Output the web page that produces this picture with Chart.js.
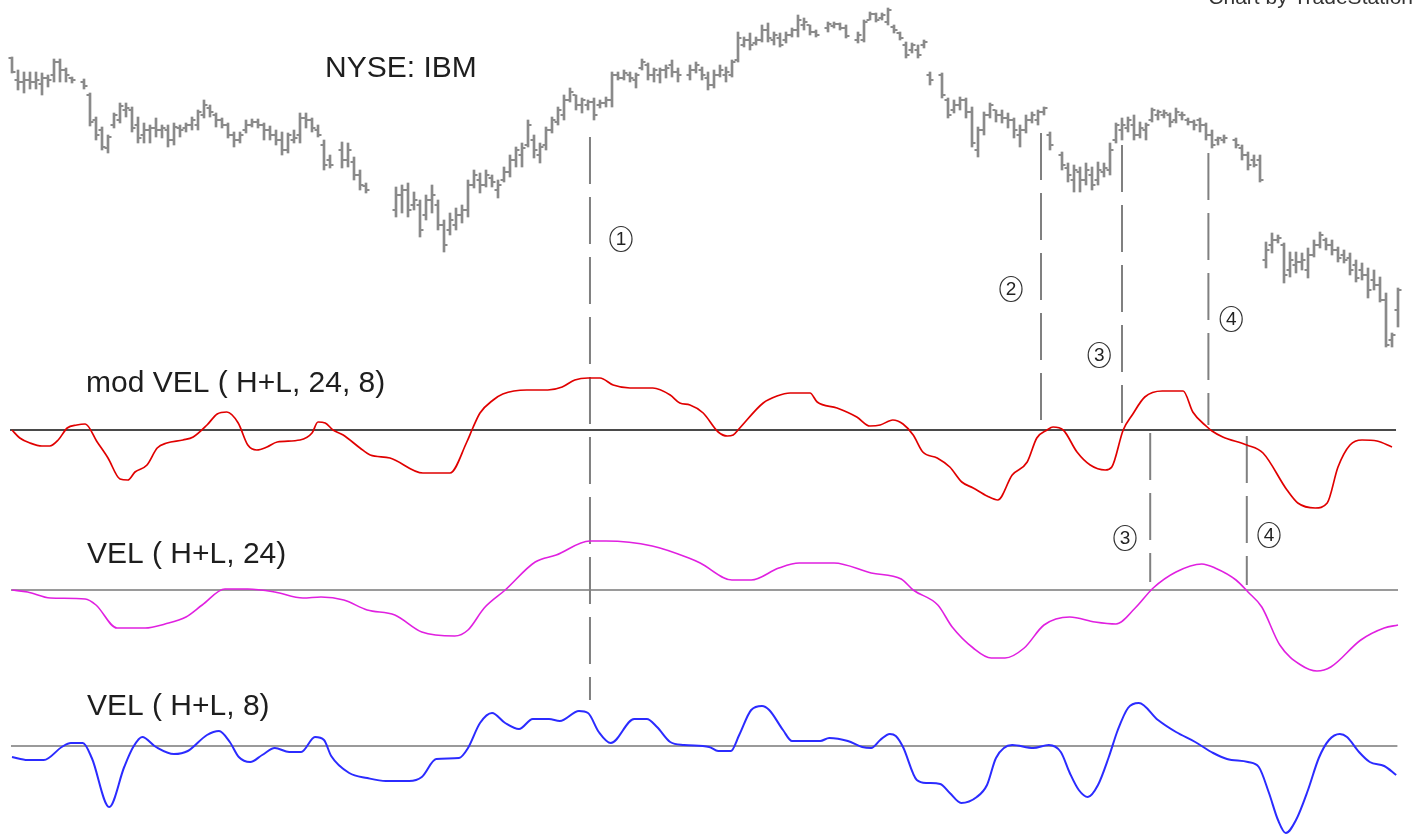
<!DOCTYPE html>
<html>
<head>
<meta charset="utf-8">
<script src="https://cdn.jsdelivr.net/npm/chart.js@4.4.0/dist/chart.umd.min.js"></script>
<style>
  html, body { margin: 0; padding: 0; background: #fff; }
  #wrap { width: 1425px; height: 834px; position: relative; }
  canvas { display: block; }
</style>
</head>
<body>
<div id="wrap"><canvas id="chart"></canvas></div>
<script>
// IBM daily bars, one slot per day (null = no bar drawn)
const highs = [
  171.5,165,164,164,164,163.5,162.5,170.5,170.5,166,
  161.5,null,160.5,153.5,141.5,136.5,132.5,143.5,148.5,148.5,
  146.5,141.5,138.5,137.5,141,137.5,137.5,138.5,137.5,138.5,
  141.5,145,150,147.5,143.5,141,138.5,134,134,140,
  140.5,140.5,138.5,137,135,134,133.5,135,143.5,143.5,
  141,137.5,130,122.5,null,129,128.5,121.5,115,108.5,
  null,null,null,null,106.5,107.5,108.5,104,100,102.5,
  107.5,100,90,93.5,96,97.5,110,115,113.5,115,
  112.5,110,116.5,122.5,126.5,128.5,140,132.5,128.5,136.5,
  141.5,146.5,152.5,156,152.5,151,150,151,150,151.5,
  164,164,165,164,163.5,170.5,168.5,166,166,167.5,
  170,166,null,167.5,169,166.5,164,165,167.5,166.5,
  170,184,181.5,183.5,181.5,187.5,188.5,184,183.5,184,
  186,192.5,191,187.5,185,null,189,189,188.5,187.5,
  null,184,190,194,193.5,193.5,196,187.5,184,179,
  178.5,177.5,180,164,null,163.5,151,150,151.5,151,
  146.5,136.5,144,148.5,145,145,143.5,141,137.5,142.5,
  144,145,146.5,134,null,124,118.5,117.5,116.5,118.5,
  116.5,119,118.5,128.5,138.5,141,141.5,142.5,139,138.5,
  146,145,145,143.5,146,144,141,140,141,138.5,
  135,131.5,132.5,null,131,127.5,124,122.5,122.5,79,
  83.5,82.5,78.5,74,74,73.5,76,80,84,81,
  80,76.5,75,73.5,70,68.5,66,65,61.5,53.5,
  33.5,56
];
const lows = [
  163.5,155,153.5,155.5,155.5,152.5,156.5,159,159,159,
  158.5,null,155.5,137,130,125,123.5,136,138.5,141.5,
  134,128.5,128.5,128.5,131.5,131,126.5,127.5,131.5,134,
  135,135,141,141.5,136.5,136,131,126.5,128.5,133.5,
  136.5,136,130,130,127.5,122.5,123.5,128.5,128.5,136,
  134,131.5,115,116,null,116,116.5,110,105,103.5,
  null,null,null,null,91.5,93.5,91.5,95,81.5,90,
  93.5,85,74,82.5,85,88.5,91.5,106,103.5,106.5,
  106.5,101,109,111.5,116.5,116.5,126.5,121,118.5,125,
  133.5,137.5,140,149,145,143.5,145,140,146,146.5,
  146.5,160,160,159,156,165,160,159,158.5,161,
  161.5,159,null,160,163.5,160,155,156,161.5,159,
  161.5,169,176.5,175,177.5,179,179,177.5,176.5,178.5,
  181.5,181.5,185,182.5,181.5,null,184,186,185,181,
  null,178.5,179,190,189,190,187.5,183.5,180,171,
  173.5,171,176,157.5,null,151,141,143.5,145,141,
  126.5,121.5,132.5,141,139,138.5,136,131,126.5,133.5,
  138.5,137.5,142.5,125,null,115,109,104,104,107.5,
  105,107.5,111.5,112.5,128.5,130,134,130,131,130,
  139,140,141,136.5,138.5,140,137.5,135,134,130,
  126,127.5,128.5,null,126,120,115,116.5,109,66,
  73.5,78.5,58.5,61.5,63.5,65,61,71.5,76,75,
  72.5,69,68.5,62.5,59,60,51,55,49,26.5,
  26.5,36.5
];
const opens = [
  171,160,159,160,159,158,161,162.5,169,165,
  161,null,159,152.5,140,135,126,137.5,140,145,
  145,137.5,132.5,135,136,135,135,130,136,136,
  137.5,137.5,142.5,146,142.5,140,137.5,132.5,130,135,
  137.5,139,137.5,135,132.5,130,125,130,132.5,141,
  140,135,127.5,120,null,125,120,119,112.5,107,
  null,null,null,null,95,102.5,105,97.5,97.5,92.5,
  100,97.5,87.5,85,87.5,92.5,95,107.5,110,107.5,
  111,105,110,114,120,122.5,127.5,130,122.5,127.5,
  135,139,142.5,150,152.5,147.5,147.5,149,147.5,148.5,
  150,162.5,161,162.5,160,166,167.5,162.5,162.5,165,
  167.5,164,null,162.5,165,165,161,157.5,162.5,162.5,
  162.5,170,177.5,180,178.5,180,185,180,181,180,
  182.5,185,187.5,187.5,184,null,186,187,188,186,
  null,180,180,190,193,191,189,186.5,183.5,177.5,
  175,175,177.5,162.5,null,162.5,150,145,147.5,150,
  144,125,135,142.5,145,142.5,141,140,132.5,135,
  140,140,144,132.5,null,122.5,116,110,114,110,
  112.5,110,114,115,130,135,136,137.5,132.5,135,
  140,142.5,142.5,142.5,140,142.5,140,139,140,137.5,
  132.5,130,130,null,130,126,122.5,120,120,70,
  77.5,80,77.5,65,67.5,69,65,72.5,77.5,80,
  77.5,75,72.5,71,67.5,65,62.5,60,57.5,50,
  30,45
];
const closes = [
  164,159,160,159,160,161,160,169,165,162.5,
  160,null,157,139,132.5,126.5,131.5,142.5,147,146,
  136,131,135,136,135,136,130,136.5,135,137.5,
  140,144,147.5,144,140,137.5,132.5,130,132.5,137.5,
  139,137.5,135,132.5,130,125,132.5,131,141,140,
  136,132.5,117.5,117.5,null,120,125,112.5,107.5,105,
  null,null,null,null,102.5,105,95,100,85,100,
  102.5,87.5,77.5,90,92.5,95,107.5,112.5,107.5,112.5,
  109,107.5,114,120,125,126,137.5,125,126.5,135,
  140,145,150,154,147.5,150,149,142.5,148.5,150,
  162.5,161,163.5,161,162.5,169,162.5,165,165,166,
  164,162.5,null,165,167.5,162.5,157.5,162.5,165,164,
  169,181,180,177.5,180,185,181,182.5,177.5,182.5,
  185,190,189,184,182.5,null,188,188,186,182,
  null,182.5,189,193,190,192.5,195,185,181,172.5,
  177.5,172.5,179,160,null,152.5,142.5,147.5,150,144,
  128.5,135,142.5,147.5,142.5,141,140,135,135,140,
  142.5,144,146,127.5,null,117.5,112.5,115,110,115,
  107.5,115,116,125,137.5,137.5,140,132.5,136,137.5,
  145,144,143.5,139,144,142.5,139,137.5,137.5,132.5,
  127.5,131,131,null,127.5,122.5,117.5,117.5,110,75,
  80,81,62.5,70,69,70,72.5,77.5,82.5,77.5,
  75,71,70,65,61,62.5,55,57.5,50,27.5,
  32.5,55
];

// mod VEL ( H+L, 24, 8) - read at the turning points, x in bar slots
const modVelIdx = [0,1.3,3,5,6.3,7.7,9.2,10.8,12.2,14.2,16,18,19.3,20.5,22.5,24.2,25.8,28.5,30.2,32.5,34.2,35.8,37.7,39.3,40.8,42.5,44.2,48,50,51,52.2,53.5,55.2,58,59.7,63,68.5,73,75.8,76.8,78,80.2,81.8,85.8,89.3,91.7,93.8,96,98,100.2,103,106.8,109.7,111.3,113,115.2,117.7,119.2,120.2,121.3,125.2,127.5,129.7,133,134.2,137.5,140.8,143,144.7,146.8,148.5,150.2,151.8,154.2,156.3,158.3,160.2,162.5,164.3,166.7,169.2,170.8,172.5,173.5,175.2,177.5,179.7,182.2,183.3,185.2,186.7,188.8,191.7,195.2,196.8,199.2,200,201.8,205.8,208.5,212.5,214.3,217.2,219.2,221,223,225,227.5,230];
const modVelVals = [0,-0.8,-1.3,-1.6,-1.6,-1.0,0.2,0.5,0.6,-1.2,-2.8,-4.9,-5.0,-4.2,-3.5,-1.8,-1.3,-1.0,-0.7,0.5,1.6,1.8,0.7,-1.5,-2.0,-1.7,-1.2,-1.0,-0.3,0.8,0.7,0,-0.5,-1.8,-2.5,-2.8,-4.3,-4.3,-1.2,0.2,1.7,3.0,3.6,4.0,4.0,4.3,5.0,5.2,5.2,4.5,4.2,4.2,3.5,2.7,2.5,1.7,-0.2,-0.6,-0.5,0.2,2.7,3.4,3.7,3.7,2.8,2.2,1.3,0.4,0.5,1.0,0.6,-0.5,-2.2,-2.8,-3.7,-5.2,-5.8,-6.6,-7.0,-4.5,-3.2,-0.8,0,0.3,0,-2.2,-3.5,-4.0,-3.7,0,1.5,3.3,3.9,3.9,1.8,0.3,-0.1,-0.7,-1.5,-2.3,-6.0,-7.3,-7.8,-7.3,-3.7,-1.5,-1.0,-1.1,-1.7];

// VEL ( H+L, 24)
const vel24Idx = [0,2.6,6.4,12.2,14,17.5,22.2,25.5,29,31.7,35.5,39.3,43.8,48.5,51.5,55.3,59.2,63.8,68.3,73.8,76,78.7,82.2,87.2,90.7,96.3,99,106.7,112.8,114.7,120,123.2,127.8,131.2,137,143.2,148.2,150.2,154.3,156.7,160.2,163.2,165.5,168.7,172,176.3,180.5,184,187.2,190.2,194,198.3,200.5,204,206,208.3,211.3,214.8,217.5,219.8,224.8,228.7,231];
const vel24Vals = [0,-0.2,-0.8,-0.9,-1.5,-3.8,-3.8,-3.4,-2.7,-1.5,0.1,0.1,-0.2,-0.8,-0.7,-1.0,-2.0,-2.5,-4.2,-4.6,-4.0,-1.8,0,2.8,3.5,4.9,4.9,4.4,3.2,2.7,1.0,1.0,2.2,2.7,2.7,1.7,1.1,0,-1.5,-3.7,-5.8,-6.8,-6.8,-5.8,-3.5,-2.7,-3.2,-3.4,-1.8,0.2,1.8,2.6,2.2,1.0,-0.2,-1.7,-5.5,-7.5,-8.1,-7.7,-5.0,-3.8,-3.5];

// VEL ( H+L, 8)
const vel8Idx = [0,2.6,5.3,8.3,9.8,11.8,13.3,16.2,18.7,20.2,21.7,24,27,29.3,32.5,34.5,36.3,37.8,39.7,41.7,43.8,46.2,48.2,50.5,52,53.2,56.2,59.2,62.3,66.2,68.3,70.7,74.5,76,78,80,82.2,84.5,86.8,89.5,91.3,94.5,96,97.8,99.8,103.7,105.8,107.5,109.7,112,116.2,117.7,119.8,121.2,123.2,125,126.2,128.5,130,134.7,136.2,139.3,141.7,143.2,144.7,146.3,147.3,148.5,150.8,152.5,154.7,156.3,158.2,160.8,162.5,164,166.7,170.2,172.8,174.8,176.3,177.8,179.3,181,182.8,184.3,186,187.8,191,194,197.2,200.2,202.5,206,207.8,209.5,211,212.3,214,216,217.8,219.5,221.3,222.5,224.5,226.3,228.7,230.7];
const vel8Vals = [-1.1,-1.4,-1.4,-0.1,0.3,0.3,-1.2,-6.1,-2.1,-0.1,0.9,-0.1,-0.8,-0.5,1.1,1.5,0.4,-1.1,-1.6,-0.9,-0.2,-0.6,-0.6,0.9,0.6,-1.0,-2.7,-3.2,-3.5,-3.5,-3.1,-1.3,-1.2,-0.2,2.3,3.3,2.3,1.7,2.7,2.7,2.5,3.5,3.3,1.4,0.3,2.7,2.7,1.9,0.4,0.1,-0.1,-0.5,-0.5,1.1,3.6,4.0,3.6,1.6,0.5,0.5,0.8,0.5,-0.1,-0.2,0.6,1.2,1.0,-0.1,-3.4,-3.7,-3.8,-4.7,-5.7,-5.1,-3.9,-1.2,0.1,-0.2,0.1,-0.6,-2.7,-4.4,-5.1,-3.9,-1.1,1.6,3.8,4.3,2.6,1.4,0.4,-0.7,-1.3,-1.6,-2.1,-4.7,-7.4,-8.7,-7.4,-4.4,-1.2,0.6,1.2,0.9,-0.6,-1.6,-2.0,-2.9];

// dashed markers: bar slot, top and bottom on the price scale
const markIdx = [96.33, 171.5, 185, 199.4, 189.7, 205.8];
const markTop = [131.5, 133.5, 127.5, 123.5, -16.5, -18];
const markBottom = [-150, -11, -11.5, -12.5, -91, -92.5];

// circled labels
const circleText = ['1', '2', '3', '4', '3', '4'];
const circleIdx = [101.5, 166.5, 181.2, 203.2, 185.5, 209.5];
const circlePrice = [80.5, 55.5, 22.5, 40.5, -69, -67.5];

// captions
const captionText = ['NYSE: IBM', 'mod VEL ( H+L, 24, 8)', 'VEL ( H+L, 24)', 'VEL ( H+L, 8)', 'Chart by TradeStation'];
const captionIdx = [52.17, 12.33, 12.5, 12.5, 233.5];
const captionPrice = [161.5, 4, -81.5, -157.5, 198];

document.addEventListener('DOMContentLoaded', () => {
    const pts = (xs, ys) => xs.map((x, i) => ({ x: x, y: ys[i] }));

    const barData = [], openData = [], closeData = [];
    highs.forEach((h, i) => {
        if (h === null) return;
        barData.push({ x: i, y: [lows[i], h] });
        openData.push({ x: i - 0.3333, y: opens[i] });
        closeData.push({ x: i + 0.3333, y: closes[i] });
    });

    const lineDs = (data, color, width, axis) => ({
        type: 'line', data: data, yAxisID: axis,
        borderColor: color, borderWidth: width,
        pointRadius: 0, cubicInterpolationMode: 'monotone', fill: false
    });

    const datasets = [
        lineDs(pts(modVelIdx, modVelVals), '#e00000', 1.7, 'yMod'),
        lineDs(pts(vel24Idx, vel24Vals), '#e020e0', 1.6, 'yVel24'),
        lineDs(pts(vel8Idx, vel8Vals), '#2b2bff', 2, 'yVel8')
    ];

    markIdx.forEach((m, k) => {
        datasets.push({
            type: 'line', yAxisID: 'yPrice',
            data: [{ x: m, y: markTop[k] }, { x: m, y: markBottom[k] }],
            borderColor: '#808080', borderWidth: 2, borderDash: [47, 13],
            pointRadius: 0
        });
    });

    // zero lines of the three indicator panes
    datasets.push({ type: 'line', yAxisID: 'yMod', data: [{ x: -0.33, y: 0 }, { x: 230.67, y: 0 }],
        borderColor: '#4a4a4a', borderWidth: 2, pointRadius: 0 });
    datasets.push({ type: 'line', yAxisID: 'yVel24', data: [{ x: -0.17, y: 0 }, { x: 231, y: 0 }],
        borderColor: '#9a9a9a', borderWidth: 2, pointRadius: 0 });
    datasets.push({ type: 'line', yAxisID: 'yVel8', data: [{ x: -0.17, y: 0 }, { x: 230.9, y: 0 }],
        borderColor: '#9a9a9a', borderWidth: 2, pointRadius: 0 });

    // open / close ticks
    const tick = (data) => ({
        type: 'line', yAxisID: 'yPrice', data: data, showLine: false,
        pointStyle: 'line', pointRadius: 1.5, pointBorderWidth: 2,
        pointBorderColor: '#8a8a8a', pointBackgroundColor: '#8a8a8a'
    });
    datasets.push(tick(openData));
    datasets.push(tick(closeData));

    datasets.push({
        type: 'bar', yAxisID: 'yPrice', data: barData,
        backgroundColor: '#8a8a8a', borderWidth: 0, barThickness: 2
    });

    const annotate = {
        id: 'annotate',
        afterDatasetsDraw(chart) {
            const ctx = chart.ctx;
            const xs = chart.scales.x, ps = chart.scales.yPrice;
            ctx.save();
            ctx.textBaseline = 'alphabetic';
            captionText.forEach((t, k) => {
                const last = k === captionText.length - 1;
                ctx.font = (last ? 21 : 30) + 'px "Liberation Sans", Arial, sans-serif';
                ctx.fillStyle = last ? '#333' : '#1e1e1e';
                ctx.textAlign = last ? 'right' : 'left';
                ctx.fillText(t, xs.getPixelForValue(captionIdx[k]), ps.getPixelForValue(captionPrice[k]));
            });
            ctx.strokeStyle = '#333';
            ctx.lineWidth = 1.2;
            ctx.fillStyle = '#222';
            ctx.font = '19px "Liberation Sans", Arial, sans-serif';
            ctx.textAlign = 'center';
            ctx.textBaseline = 'middle';
            circleText.forEach((t, k) => {
                const cx = xs.getPixelForValue(circleIdx[k]);
                const cy = ps.getPixelForValue(circlePrice[k]);
                ctx.beginPath();
                ctx.ellipse(cx, cy, 11, 12.5, 0, 0, Math.PI * 2);
                ctx.stroke();
                ctx.fillText(t, cx, cy + 1);
            });
            ctx.restore();
        }
    };

    const hidden = (min, max) => ({ type: 'linear', axis: 'y', display: false, min: min, max: max });

    new Chart(document.getElementById('chart'), {
        type: 'bar',
        data: { datasets: datasets },
        options: {
            responsive: true,
            maintainAspectRatio: false,
            animation: false,
            events: [],
            layout: { padding: 0, autoPadding: false },
            plugins: { legend: { display: false }, tooltip: { enabled: false }, title: { display: false } },
            scales: {
                x: { type: 'linear', axis: 'x', display: false, min: -2, max: 235.5, offset: false },
                yPrice: hidden(-217, 200),
                yMod: hidden(-40.4, 43),
                yVel24: hidden(-24.4, 59),
                yVel8: hidden(-8.8, 74.6)
            }
        },
        plugins: [annotate]
    });
});
</script>
</body>
</html>
